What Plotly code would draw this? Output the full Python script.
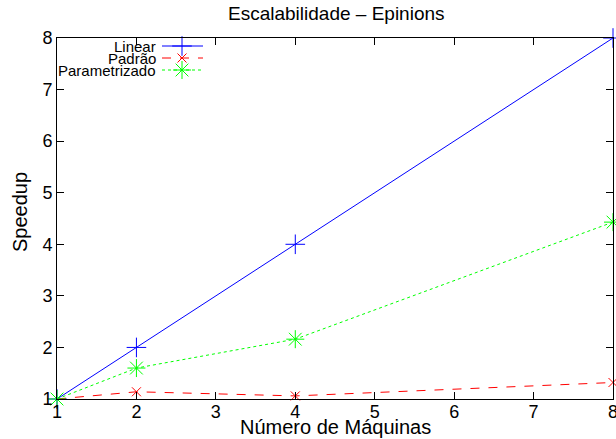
import plotly.graph_objects as go

machines = [1, 2, 4, 8]
linear = [1, 2, 4, 8]
padrao = [1, 1.14, 1.06, 1.32]
parametrizado = [1, 1.6, 2.16, 4.43]
names = ["Linear", "Padrão", "Parametrizado"]
colors = ["#0000ff", "#ff0000", "#00ff00"]
dashes = ["solid", "dash", "dot"]
symbols = ["cross-thin-open", "x-thin-open", "asterisk-open"]
msizes = [14, 9, 15]
x_ticks = [1, 2, 3, 4, 5, 6, 7, 8]
y_ticks = [1, 2, 3, 4, 5, 6, 7, 8]

W, H = 616, 439
L, R, T, B = 57, 3, 38, 40
PW, PH = W - L - R, H - T - B
FONT = "Liberation Sans, Arial, sans-serif"


def px(xs):
    return xs - L


def py(ys):
    return ys - T


fig = go.Figure()
series = [linear, padrao, parametrizado]
for name, ys, c, d, s, ms in zip(names, series, colors, dashes, symbols, msizes):
    fig.add_trace(go.Scatter(
        x=machines, y=ys, mode="lines+markers", name=name,
        line=dict(color=c, width=1, dash=d),
        marker=dict(symbol=s, size=ms, color=c, line=dict(color=c, width=1)),
        cliponaxis=False, showlegend=False))

# manual gnuplot-style legend (overlay axis in pixel units)
legend_rows = [46, 58, 70]
for name, c, d, s, ms, yrow in zip(names, colors, dashes, symbols, msizes, legend_rows):
    fig.add_trace(go.Scatter(
        x=[px(162), px(203)], y=[py(yrow), py(yrow)], mode="lines",
        line=dict(color=c, width=1, dash=d), xaxis="x2", yaxis="y2",
        showlegend=False, hoverinfo="skip", cliponaxis=False))
    fig.add_trace(go.Scatter(
        x=[px(182)], y=[py(yrow)], mode="markers",
        marker=dict(symbol=s, size=ms, color=c, line=dict(color=c, width=1)),
        xaxis="x2", yaxis="y2", showlegend=False, hoverinfo="skip", cliponaxis=False))
    fig.add_annotation(x=px(158), y=py(yrow), xref="x2", yref="y2", text=name,
                       showarrow=False, xanchor="right", yanchor="middle",
                       font=dict(size=15, color="black", family=FONT))

# titles as annotations (pixel positions converted to paper fractions)
fig.add_annotation(x=px(336) / PW, y=1 - py(13) / PH,
                   xref="paper", yref="paper", text="Escalabilidade – Epinions",
                   showarrow=False, xanchor="center", yanchor="middle",
                   font=dict(size=19, color="black", family=FONT))
fig.add_annotation(x=px(335) / PW, y=1 - py(427) / PH,
                   xref="paper", yref="paper", text="Número de Máquinas",
                   showarrow=False, xanchor="center", yanchor="middle",
                   font=dict(size=20, color="black", family=FONT))
fig.add_annotation(x=px(20) / PW, y=1 - py(212) / PH,
                   xref="paper", yref="paper", text="Speedup", textangle=-90,
                   showarrow=False, xanchor="center", yanchor="middle",
                   font=dict(size=20, color="black", family=FONT))

axis_common = dict(showgrid=False, zeroline=False, showline=True, linecolor="black",
                   linewidth=1, mirror="ticks", ticks="inside", ticklen=7,
                   tickcolor="black", automargin=False, ticklabeloverflow="allow",
                   tickfont=dict(size=18, color="black", family=FONT))
fig.update_layout(
    width=W, height=H,
    margin=dict(l=L, r=R, t=T, b=B, autoexpand=False),
    paper_bgcolor="white", plot_bgcolor="white",
    font=dict(family=FONT, color="black"),
    xaxis=dict(range=[1, 8], tickmode="array", tickvals=x_ticks,
               ticklabelstandoff=-4, **axis_common),
    yaxis=dict(range=[1, 8], tickmode="array", tickvals=y_ticks, **axis_common),
    xaxis2=dict(overlaying="x", range=[0, PW], visible=False),
    yaxis2=dict(overlaying="y", range=[PH, 0], visible=False),
)
fig.write_html("out.html", config={"displayModeBar": False},
               post_script="document.body.style.margin='0';document.body.style.overflow='hidden';")
